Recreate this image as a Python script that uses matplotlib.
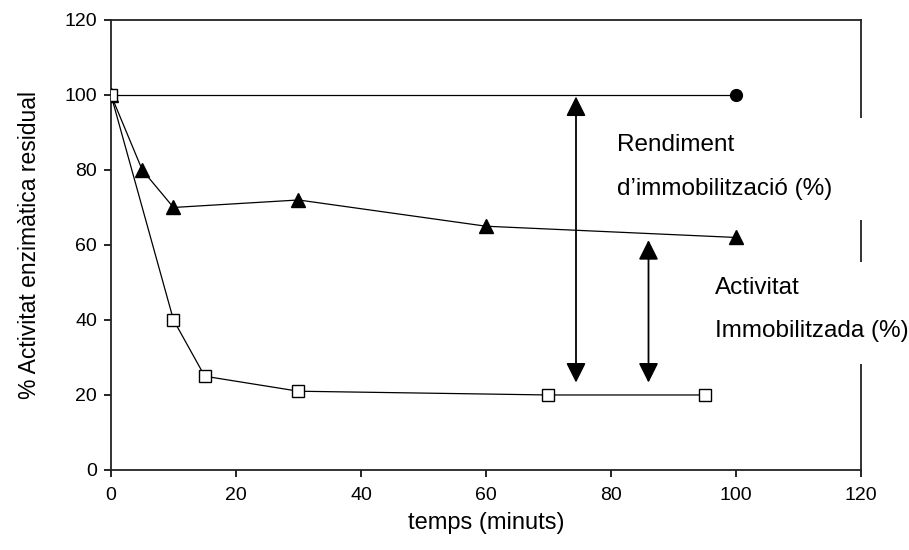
import matplotlib.pyplot as plt

plt.rcParams['font.family'] = ['Liberation Sans', 'DejaVu Sans']

# dades
t_control = [0, 100]
act_control = [100, 100]

t_tri = [0, 5, 10, 30, 60, 100]
act_tri = [100, 80, 70, 72, 65, 62]

t_sq = [0, 10, 15, 30, 70, 95]
act_sq = [100, 40, 25, 21, 20, 20]

# fletxes dobles: (x, y_inferior, y_superior)
arrow_x = [74.4, 86.0]
arrow_low = [23.3, 23.3]
arrow_high = [99.6, 61.3]

# trams de l'eix dret tapats pels textos
gaps = [(66.7, 93.9), (28.3, 55.5)]

fig = plt.figure(figsize=(9.09, 5.5), dpi=100)
ax = fig.add_axes([0.1221, 0.1455, 0.8251, 0.8182])

ax.plot(t_control, act_control, color='black', lw=0.9, marker='o', ms=8.5,
        mfc='black', mec='black', zorder=3)
ax.plot(t_tri, act_tri, color='black', lw=0.9, marker='^', ms=10,
        mfc='black', mec='black', zorder=3)
ax.plot(t_sq, act_sq, color='black', lw=0.9, marker='s', ms=8,
        mfc='white', mec='black', mew=1.0, zorder=3)

for x, lo, hi in zip(arrow_x, arrow_low, arrow_high):
    ax.annotate('', xy=(x, hi), xytext=(x, lo),
                arrowprops=dict(arrowstyle='<|-|>,head_length=0.8,head_width=0.4',
                                mutation_scale=15, color='black', lw=1.3,
                                shrinkA=0, shrinkB=0), zorder=4)

ax.set_xlim(0, 120)
ax.set_ylim(0, 120)
ax.set_xticks(range(0, 121, 20))
ax.set_yticks(range(0, 121, 20))
ax.tick_params(direction='out', length=5, width=1.2, labelsize=14, pad=5)
ax.tick_params(axis='x', pad=7)
for s in ax.spines.values():
    s.set_linewidth(1.3)
    s.set_color('#222222')

for lo, hi in gaps:
    ax.axhspan(lo, hi, xmin=0.98, xmax=1.02, facecolor='white',
               edgecolor='none', clip_on=False, zorder=5)

ax.set_xlabel('temps (minuts)', fontsize=17, labelpad=6)
ax.set_ylabel('% Activitat enzimàtica residual', fontsize=16.5, labelpad=17)

ax.text(81.0, 80.8, 'Rendiment\nd\u2019immobilització (%)', fontsize=17.5,
        linespacing=2.25, va='center', ha='left', zorder=6, clip_on=False)
ax.text(96.6, 42.8, 'Activitat\nImmobilitzada (%)', fontsize=17.5,
        linespacing=2.25, va='center', ha='left', zorder=6, clip_on=False)

fig.savefig('out.png', dpi=100)
